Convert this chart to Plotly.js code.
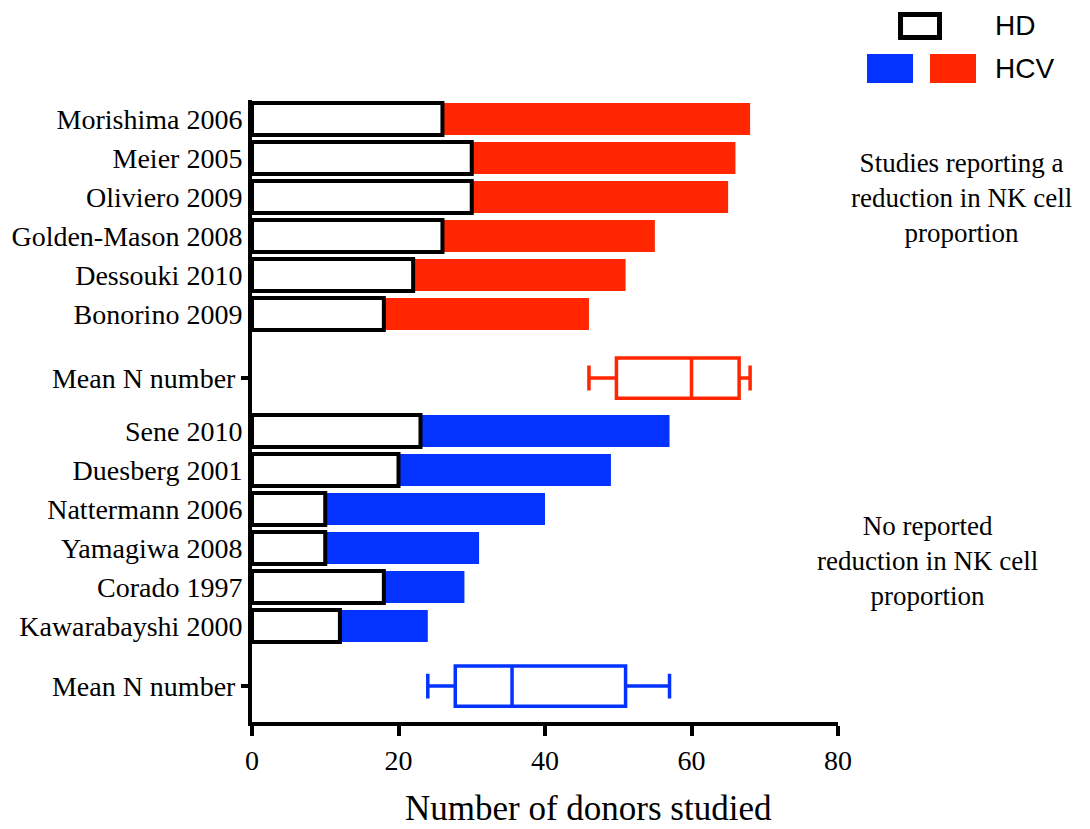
<!DOCTYPE html>
<html>
<head>
<meta charset="utf-8">
<script src="https://cdn.plot.ly/plotly-3.0.1.min.js"></script>
<style>html,body{margin:0;padding:0;background:#fff;}#chart{width:1090px;height:829px;}</style>
</head>
<body>
<div id="chart"></div>
<script>
// ---- data ----
const reducedStudies = ["Morishima 2006", "Meier 2005", "Oliviero 2009", "Golden-Mason 2008", "Dessouki 2010", "Bonorino 2009"];
const reducedHD  = [26, 30, 30, 26, 22, 18];
const reducedHCV = [42, 36, 35, 29, 29, 28];

const noReductionStudies = ["Sene 2010", "Duesberg 2001", "Nattermann 2006", "Yamagiwa 2008", "Corado 1997", "Kawarabayshi 2000"];
const noReductionHD  = [23, 20, 10, 10, 18, 12];
const noReductionHCV = [34, 29, 30, 21, 11, 12];

const meanLabel = "Mean N number";

// ---- helpers ----
function totals(hd, hcv) { return hd.map((v, i) => v + hcv[i]); }
function prismQuantile(sorted, p) {
  const n = sorted.length;
  let pos = p * (n + 1);
  if (pos < 1) pos = 1;
  if (pos > n) pos = n;
  const lo = Math.floor(pos), frac = pos - lo;
  const a = sorted[lo - 1], b = sorted[Math.min(lo, n - 1)];
  return a + frac * (b - a);
}
function stats(vals) {
  const s = vals.slice().sort((a, b) => a - b);
  return {min: s[0], q1: prismQuantile(s, 0.25), med: prismQuantile(s, 0.5), q3: prismQuantile(s, 0.75), max: s[s.length - 1]};
}

// row layout (category slots, top to bottom)
const gapBeforeMean1 = 1.64, gapAfterMean1 = 1.36, gapBeforeMean2 = 1.54;
const posA = reducedStudies.map((_, i) => i);
const posMeanA = posA[posA.length - 1] + gapBeforeMean1;
const posB = noReductionStudies.map((_, i) => posMeanA + gapAfterMean1 + i);
const posMeanB = posB[posB.length - 1] + gapBeforeMean2;

const RED = "#FF2600", BLUE = "#0433FF";
const FONT = "Liberation Serif, Times New Roman, serif";
const barW = 0.82;

const sA = stats(totals(reducedHD, reducedHCV));
const sB = stats(totals(noReductionHD, noReductionHCV));

const traces = [
  {type: "bar", orientation: "h", y: posA, x: reducedHCV, base: reducedHD, width: barW,
   marker: {color: RED, line: {width: 0}}, hoverinfo: "x", showlegend: false},
  {type: "bar", orientation: "h", y: posB, x: noReductionHCV, base: noReductionHD, width: barW,
   marker: {color: BLUE, line: {width: 0}}, hoverinfo: "x", showlegend: false},
  {type: "bar", orientation: "h", y: posA.concat(posB), x: reducedHD.concat(noReductionHD), width: barW,
   marker: {color: "#ffffff", line: {color: "#000", width: 4}}, showlegend: false},
  {type: "box", orientation: "h", yaxis: "y2", y: [posMeanA], q1: [sA.q1], median: [sA.med], q3: [sA.q3],
   lowerfence: [sA.min], upperfence: [sA.max], width: 1.03, whiskerwidth: 0.62,
   line: {color: RED, width: 3.5}, fillcolor: "rgba(0,0,0,0)", boxpoints: false, showlegend: false},
  {type: "box", orientation: "h", yaxis: "y2", y: [posMeanB], q1: [sB.q1], median: [sB.med], q3: [sB.q3],
   lowerfence: [sB.min], upperfence: [sB.max], width: 1.03, whiskerwidth: 0.62,
   line: {color: BLUE, width: 3.5}, fillcolor: "rgba(0,0,0,0)", boxpoints: false, showlegend: false}
];

const yRange = [posMeanB + 0.92, -0.49];
const labelPos = posA.concat([posMeanA], posB, [posMeanB]);
const labelText = reducedStudies.concat([meanLabel + "\u00A0"], noReductionStudies, [meanLabel + "\u00A0"]);

const layout = {
  width: 1090, height: 829,
  margin: {l: 252, r: 252, t: 100, b: 107},
  paper_bgcolor: "#fff", plot_bgcolor: "#fff",
  barmode: "overlay", boxmode: "overlay",
  font: {family: FONT, color: "#000", size: 28},
  xaxis: {range: [0, 80], tickvals: [0, 20, 40, 60, 80], ticks: "outside", ticklen: 10, tickwidth: 4,
          tickcolor: "#000", showline: true, linewidth: 4, linecolor: "#000", showgrid: false, zeroline: false,
          tickfont: {family: FONT, size: 28}, fixedrange: true},
  yaxis: {range: yRange, autorange: false, tickvals: labelPos, ticktext: labelText,
          ticks: "", showline: true, linewidth: 4, linecolor: "#000", showgrid: false, zeroline: false,
          tickfont: {family: FONT, size: 28}, fixedrange: true},
  yaxis2: {overlaying: "y", side: "left", range: yRange, autorange: false, tickvals: [posMeanA, posMeanB],
           ticktext: ["", ""], ticks: "outside", ticklen: 10, tickwidth: 4, tickcolor: "#000",
           showline: false, showgrid: false, zeroline: false, fixedrange: true},
  shapes: [
    {type: "rect", xref: "paper", yref: "paper", x0: 1.1067, x1: 1.1732, y0: 1.1005, y1: 1.1375,
     line: {color: "#000", width: 5}, fillcolor: "#fff"},
    {type: "rect", xref: "paper", yref: "paper", x0: 1.0495, x1: 1.128, y0: 1.0273, y1: 1.074,
     line: {width: 0}, fillcolor: BLUE},
    {type: "rect", xref: "paper", yref: "paper", x0: 1.157, x1: 1.2355, y0: 1.0273, y1: 1.074,
     line: {width: 0}, fillcolor: RED}
  ],
  annotations: [
    {xref: "paper", yref: "paper", x: 1.2645, y: 1.119, xanchor: "left", yanchor: "middle", showarrow: false,
     text: "HD", font: {family: "Liberation Sans, Arial, sans-serif", size: 28}},
    {xref: "paper", yref: "paper", x: 1.2645, y: 1.0514, xanchor: "left", yanchor: "middle", showarrow: false,
     text: "HCV", font: {family: "Liberation Sans, Arial, sans-serif", size: 28}},
    {xref: "paper", yref: "paper", x: 1.2116, y: 0.8424, xanchor: "center", yanchor: "middle", showarrow: false,
     align: "center", text: "Studies reporting a<br>reduction in NK cell<br>proportion", font: {family: FONT, size: 27}},
    {xref: "paper", yref: "paper", x: 1.1519, y: 0.2588, xanchor: "center", yanchor: "middle", showarrow: false,
     align: "center", text: "No reported<br>reduction in NK cell<br>proportion", font: {family: FONT, size: 27}},
    {xref: "paper", yref: "paper", x: 0.5734, y: -0.1383, xanchor: "center", yanchor: "middle", showarrow: false,
     text: "Number of donors studied", font: {family: FONT, size: 35}}
  ]
};

Plotly.newPlot("chart", traces, layout, {displayModeBar: false, staticPlot: true});
</script>
</body>
</html>
